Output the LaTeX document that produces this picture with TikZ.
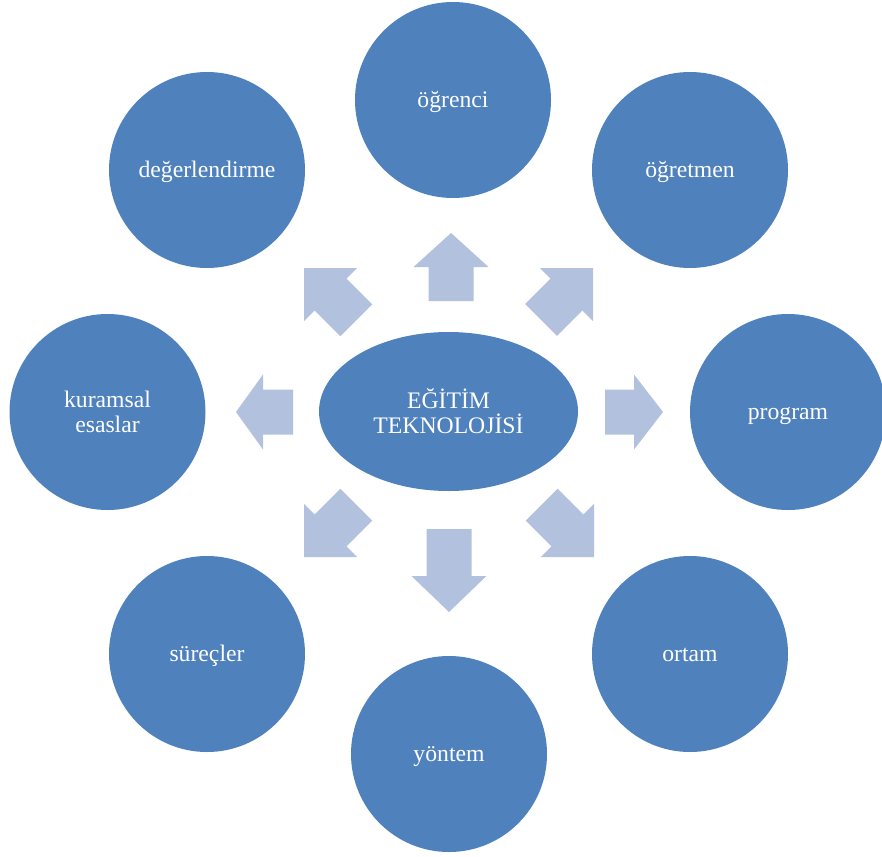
\documentclass[tikz,border=0pt]{standalone}
\usepackage{fontspec}
\setmainfont{Liberation Serif}
\usetikzlibrary{shapes.geometric}

\definecolor{topicblue}{HTML}{4F81BD}
\definecolor{arrowblue}{HTML}{B2C1DD}

% block arrow: tip coordinate, direction angle, head length, total length
\newcommand\blockarrow[4]{%
  \fill[arrowfill, shift={#1}, rotate=#2]
    (0pt,0pt) -- (-#3pt,37.5pt) -- (-#3pt,22.5pt) -- (-#4pt,22.5pt)
    -- (-#4pt,-22.5pt) -- (-#3pt,-22.5pt) -- (-#3pt,-37.5pt) -- cycle;}

\tikzset{
  labelfont/.style={text=white, font=\fontsize{23.7}{25}\selectfont},
  topic/.style={circle, fill=topicblue, minimum size=196pt, inner sep=0pt,
    labelfont, text height=15.5pt, text depth=0pt},
  topictwo/.style={circle, fill=topicblue, minimum size=196pt, inner sep=0pt,
    labelfont, align=center},
  hub/.style={ellipse, fill=topicblue, minimum width=259pt, minimum height=159pt,
    inner sep=0pt, labelfont, align=center},
  arrowfill/.style={fill=arrowblue}
}

\begin{document}
\begin{tikzpicture}[x=1pt, y=-1pt]
  \useasboundingbox (0,0) rectangle (882,856);

  % central concept
  \node[hub] (hub) at (448.5,411.5) {EĞİTİM\\TEKNOLOJİSİ};

  % surrounding topics
  \node[topic] (ogrenci)  at (453,100) {öğrenci};
  \node[topic] (ogretmen) at (690,170) {öğretmen};
  \node[topic] (program)  at (788,412) {program};
  \node[topic] (ortam)    at (690,654) {ortam};
  \node[topic] (yontem)   at (449,754) {yöntem};
  \node[topic] (surecler) at (207,654) {süreçler};
  \node[topictwo] (kuramsal) at (107.5,412) {kuramsal\\esaslar};
  \node[topic] (degerlendirme) at (207,170) {değerlendirme};

  % arrows radiating from the centre
  \blockarrow{(451,233)}{90}{34}{68}
  \blockarrow{(593,268)}{45}{37.5}{73.5}
  \blockarrow{(663,412)}{0}{29}{58}
  \blockarrow{(594,557)}{-45}{37.5}{74}
  \blockarrow{(449,612)}{270}{36}{83}
  \blockarrow{(304,557)}{225}{37.5}{74}
  \blockarrow{(236,412)}{180}{27}{57}
  \blockarrow{(304,268)}{135}{37.5}{74}
\end{tikzpicture}
\end{document}
